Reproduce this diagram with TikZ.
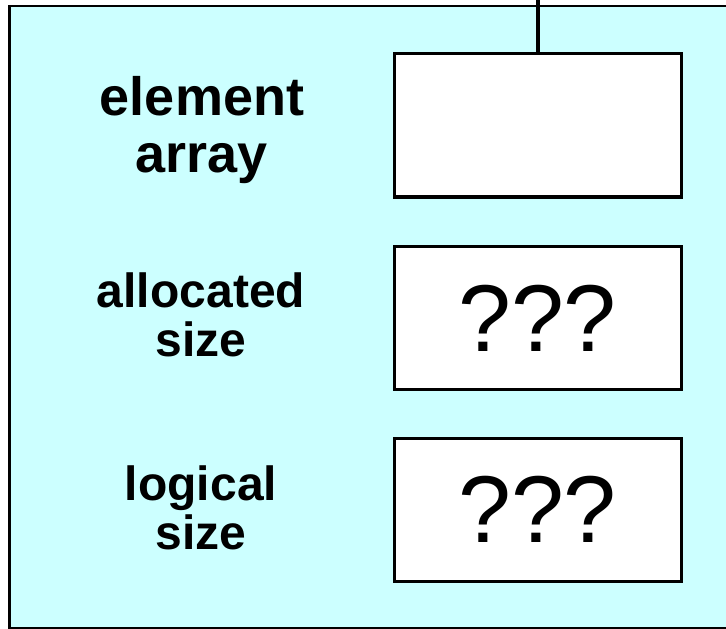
\documentclass[tikz,border=0pt]{standalone}
\usepackage{fontspec}
\setmainfont{Liberation Sans}
\definecolor{cyanbg}{RGB}{204,255,255}
\begin{document}
\begin{tikzpicture}[x=1pt,y=-1pt,
  fieldbox/.style={draw=black,fill=white,line width=3.3pt,inner sep=0pt,
    minimum width=287.4pt,minimum height=143.5pt},
  bigtxt/.style={font=\bfseries\fontsize{54}{54}\selectfont,inner sep=0pt,anchor=base},
  midtxt/.style={font=\bfseries\fontsize{48}{48}\selectfont,inner sep=0pt,anchor=base},
  qtxt/.style={font=\fontsize{95}{95}\selectfont,inner sep=0pt,anchor=base}]
\useasboundingbox (0,0) rectangle (726,629);
\fill[cyanbg] (9.5,6) rectangle (740,628);
\draw[line width=2.7pt] (9.5,6) rectangle (740,628.3);
\node[fieldbox] (arr) at (538,125.3) {};
\node[fieldbox] (alloc) at (538,318) {};
\node[fieldbox] (logic) at (538,510) {};
\coordinate (topend) at (538,-10);
\draw[line width=3.3pt] (topend) -- (arr.north);
\node[bigtxt] (l1a) at (202,115) {element};
\node[bigtxt] (l1b) at (202,172) {array};
\node[midtxt] (l2a) at (201,307) {allocated};
\node[midtxt] (l2b) at (201,356) {size};
\node[midtxt] (l3a) at (201,500) {logical};
\node[midtxt] (l3b) at (201,549) {size};
\node[qtxt] (q2) at (537.5,351) {???};
\node[qtxt] (q3) at (537.5,542.7) {???};
\end{tikzpicture}
\end{document}
